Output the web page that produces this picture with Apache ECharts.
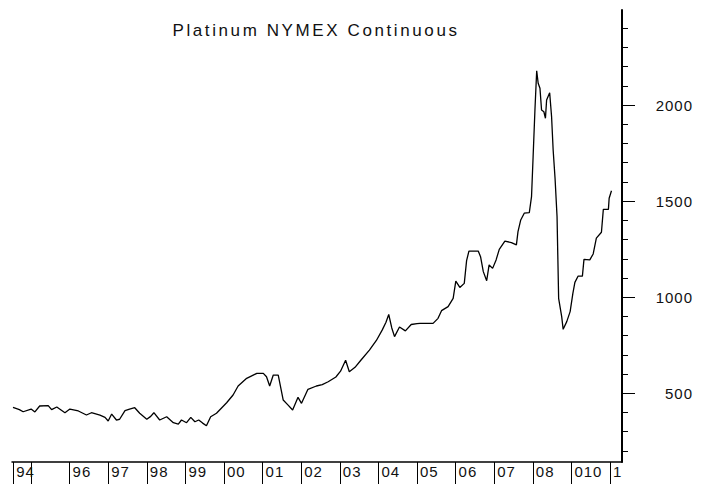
<!DOCTYPE html>
<html>
<head>
<meta charset="utf-8">
<script src="https://cdn.jsdelivr.net/npm/echarts@6/dist/echarts.min.js"></script>
<style>
  html, body { margin: 0; padding: 0; background: #fff; }
  #chart { width: 707px; height: 486px; }
  #chart text { letter-spacing: 1px; }
  #chart text[style*="17px"] { letter-spacing: 2.6px; }
</style>
</head>
<body>
<div id="chart"></div>
<script>
const titleText = 'Platinum NYMEX Continuous';

const dates = [
  '1994-07-15','1994-09-13','1994-10-19','1995-01-02','1995-02-07','1995-03-24','1995-06-13','1995-07-15',
  '1995-09-02','1995-11-18','1996-01-04','1996-03-24','1996-06-09','1996-07-26','1996-10-15','1996-12-02',
  '1997-01-01','1997-02-03','1997-03-20','1997-04-19','1997-06-09','1997-07-22','1997-09-09','1997-10-26',
  '1998-01-01','1998-02-07','1998-03-09','1998-05-03','1998-07-08','1998-09-09','1998-10-26','1998-11-25',
  '1999-01-12','1999-02-21','1999-04-01','1999-05-07','1999-06-13','1999-07-19','1999-08-28','1999-10-22',
  '2000-01-26','2000-03-27','2000-05-14','2000-08-03','2000-11-07','2001-01-08','2001-02-07','2001-03-09',
  '2001-04-12','2001-05-29','2001-07-15','2001-08-28','2001-10-12','2001-12-02','2002-01-04','2002-03-06',
  '2002-05-25','2002-07-19','2002-09-13','2002-11-25','2003-01-08','2003-02-25','2003-04-01','2003-05-25',
  '2003-07-19','2003-10-08','2003-12-13','2004-02-07','2004-03-13','2004-04-08','2004-05-07','2004-06-02',
  '2004-07-19','2004-09-13','2004-11-07','2005-01-01','2005-01-29','2005-06-02','2005-07-19','2005-08-21',
  '2005-10-22','2005-12-09','2006-01-03','2006-02-10','2006-03-24','2006-04-15','2006-05-07','2006-08-03',
  '2006-08-25','2006-09-20','2006-10-22','2006-11-14','2006-12-17','2007-01-19','2007-02-18','2007-04-12',
  '2007-06-13','2007-07-30','2007-08-14','2007-09-09','2007-10-12','2007-11-29','2007-12-20','2008-01-04',
  '2008-01-22','2008-02-07','2008-02-21','2008-03-09','2008-03-24','2008-04-15','2008-04-30','2008-05-11',
  '2008-06-09','2008-06-27','2008-07-12','2008-07-30','2008-08-18','2008-09-02','2008-10-01','2008-10-15',
  '2008-11-18','2008-12-20','2009-01-15','2009-02-03','2009-03-06','2009-04-15','2009-04-30','2009-06-24',
  '2009-07-26','2009-08-25','2009-10-12','2009-10-30','2009-12-17','2009-12-24','2010-01-15'
];

const prices = [
  427, 415, 404, 418, 403, 434, 436, 415,
  429, 399, 418, 408, 387, 399, 386, 375,
  356, 392, 361, 365, 410, 418, 425, 396,
  365, 380, 399, 361, 378, 347, 340, 361,
  347, 375, 352, 361, 345, 331, 378, 396,
  451, 491, 538, 578, 604, 604, 586, 538,
  595, 595, 465, 440, 413, 479, 448, 521,
  538, 545, 560, 585, 615, 672, 612, 635,
  672, 725, 775, 830, 870, 910, 840, 795,
  845, 825, 858, 862, 864, 864, 890, 930,
  951, 994, 1084, 1051, 1072, 1190, 1240, 1240,
  1211, 1133, 1086, 1168, 1150, 1194, 1249, 1292,
  1284, 1272, 1341, 1402, 1437, 1440, 1523, 1731,
  1983, 2178, 2113, 2087, 1974, 1965, 1931, 2026,
  2064, 1940, 1766, 1619, 1419, 994, 899, 833,
  873, 925, 1020, 1077, 1110, 1110, 1197, 1194,
  1225, 1307, 1338, 1457, 1457, 1515, 1554
];

const xTickYears = [1994.54, 1995, 1996, 1997, 1998, 1999, 2000, 2001, 2002, 2003, 2004, 2005, 2006, 2007, 2008, 2009, 2010];
const xLabelYears = [1994.54, 1996, 1997, 1998, 1999, 2000, 2001, 2002, 2003, 2004, 2005, 2006, 2007, 2008, 2009, 2010];
const xLabels = ['94', '96', '97', '98', '99', '00', '01', '02', '03', '04', '05', '06', '07', '08', '010', '1'];

const yMinorTicks = [200, 300, 400, 500, 600, 700, 800, 900, 1000, 1100, 1200, 1300, 1400, 1500, 1600, 1700, 1800, 1900, 2000, 2100, 2200, 2300, 2400];
const yMajorTicks = [500, 1000, 1500, 2000];

function toYear(s) {
  const p = s.split('-').map(Number);
  const start = Date.UTC(p[0], 0, 1), end = Date.UTC(p[0] + 1, 0, 1);
  return p[0] + (Date.UTC(p[0], p[1] - 1, p[2]) - start) / (end - start);
}

const seriesData = dates.map((d, i) => [toYear(d), prices[i]]);

const FONT = '"Liberation Sans", Arial, sans-serif';
const chart = echarts.init(document.getElementById('chart'), null, { renderer: 'svg' });

const xMin = 1994.508, xMax = 2010.311;
const yMin = 142.6, yMax = 2494.3;

chart.setOption({
  animation: false,
  backgroundColor: '#fff',
  title: {
    text: titleText,
    left: 311,
    textAlign: 'center',
    top: 17,
    textStyle: { fontFamily: FONT, fontSize: 17, fontWeight: 'normal', color: '#111' }
  },
  grid: { left: 12, right: 85, top: 10, bottom: 24, containLabel: false },
  xAxis: {
    type: 'value',
    min: xMin,
    max: xMax,
    axisLine: { show: true, lineStyle: { color: '#000', width: 1.5 } },
    axisTick: { show: true, customValues: xTickYears, length: 22, inside: false, lineStyle: { color: '#000', width: 1 } },
    axisLabel: {
      show: true,
      customValues: xLabelYears,
      formatter: function (v) {
        let best = 0, bd = 1e9;
        xLabelYears.forEach((y, i) => { const d = Math.abs(y - v); if (d < bd) { bd = d; best = i; } });
        return xLabels[best];
      },
      align: 'left',
      verticalAlign: 'top',
      padding: [0, 0, 0, 3],
      margin: 2,
      fontFamily: FONT,
      fontSize: 15,
      color: '#111',
      showMinLabel: true,
      showMaxLabel: true,
      hideOverlap: false
    },
    splitLine: { show: false }
  },
  yAxis: [
    {
      type: 'value',
      position: 'right',
      min: yMin,
      max: yMax,
      axisLine: { show: true, lineStyle: { color: '#000', width: 2 } },
      axisTick: { show: true, customValues: yMinorTicks, length: 6, inside: false, lineStyle: { color: '#000', width: 1 } },
      axisLabel: {
        show: true,
        customValues: yMajorTicks,
        formatter: function (v) { return String(Math.round(v)); },
        align: 'right',
        margin: 71,
        fontFamily: FONT,
        fontSize: 15,
        color: '#111'
      },
      splitLine: { show: false }
    },
    {
      type: 'value',
      position: 'right',
      min: yMin,
      max: yMax,
      axisLine: { show: false },
      axisTick: { show: true, customValues: yMajorTicks, length: 13, inside: false, lineStyle: { color: '#000', width: 1 } },
      axisLabel: { show: false },
      splitLine: { show: false }
    }
  ],
  series: [{
    type: 'line',
    data: seriesData,
    xAxisIndex: 0,
    yAxisIndex: 0,
    showSymbol: false,
    symbol: 'none',
    lineStyle: { color: '#000', width: 1.3 },
    emphasis: { disabled: true }
  }]
});
</script>
</body>
</html>
